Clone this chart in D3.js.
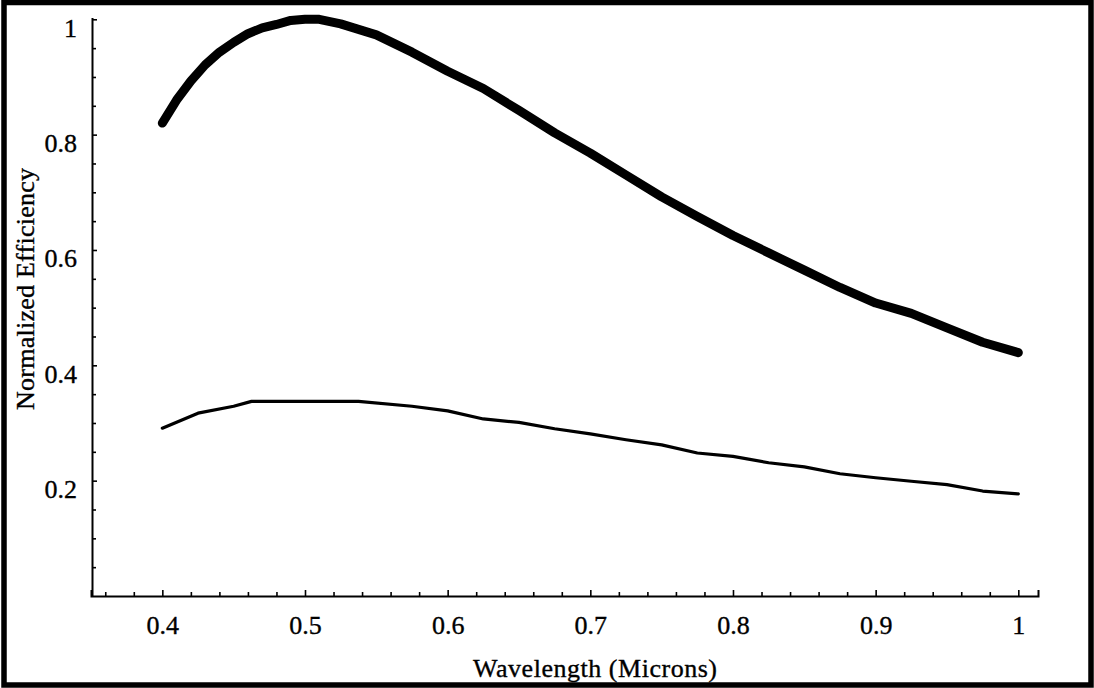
<!DOCTYPE html>
<html>
<head>
  <meta charset="UTF-8">
  <title>Normalized Efficiency vs Wavelength</title>
  <script src="https://d3js.org/d3.v7.min.js"></script>
  <style>
    body { margin: 0; background: #fff; }
    svg { display: block; }
    text { font-family: "Liberation Serif", "Times New Roman", serif; fill: #000; stroke: #000; stroke-width: 0.35px; }
    .axis path, .axis line { stroke: #000; }
  </style>
</head>
<body>
  <svg width="1094" height="688"></svg>
  <script>
    // upper (thick) curve
    const thickX = [0.40, 0.41, 0.42, 0.43, 0.44, 0.45, 0.46, 0.47, 0.48, 0.49, 0.50, 0.51,
                    0.525, 0.55, 0.575, 0.60, 0.625, 0.65, 0.675, 0.70, 0.725, 0.75, 0.775,
                    0.80, 0.825, 0.85, 0.875, 0.90, 0.925, 0.95, 0.975, 1.00];
    const thickY = [0.820, 0.860, 0.893, 0.921, 0.943, 0.960, 0.975, 0.985, 0.991, 0.998, 1.000, 1.000,
                    0.992, 0.973, 0.943, 0.910, 0.880, 0.842, 0.803, 0.768, 0.730, 0.692, 0.658,
                    0.625, 0.595, 0.565, 0.535, 0.508, 0.490, 0.465, 0.440, 0.422];
    // lower (thin) curve
    const thinX = [0.40, 0.425, 0.45, 0.4625, 0.5375, 0.575, 0.60, 0.625, 0.65, 0.675, 0.70, 0.725,
                   0.75, 0.775, 0.80, 0.825, 0.85, 0.875, 0.90, 0.925, 0.95, 0.975, 1.00];
    const thinY = [0.291, 0.317, 0.329, 0.3375, 0.3375, 0.329, 0.321, 0.307, 0.301, 0.290, 0.281, 0.271,
                   0.262, 0.248, 0.242, 0.231, 0.224, 0.212, 0.205, 0.199, 0.193, 0.182, 0.177];

    const xMajor = [0.4, 0.5, 0.6, 0.7, 0.8, 0.9, 1.0];
    const xLabels = ['0.4', '0.5', '0.6', '0.7', '0.8', '0.9', '1'];
    const yMajor = [0.2, 0.4, 0.6, 0.8, 1.0];
    const yLabels = ['0.2', '0.4', '0.6', '0.8', '1'];
    const xMinor = d3.range(18, 51).map(i => i * 0.02).filter(v => !xMajor.some(m => Math.abs(m - v) < 1e-6));
    const yMinor = d3.range(1, 21).map(i => i * 0.05).filter(v => !yMajor.some(m => Math.abs(m - v) < 1e-6));

    const svg = d3.select('svg');
    const serif = '"Liberation Serif", "Times New Roman", serif';

    const x = d3.scaleLinear().domain([0.35, 1.0138]).range([91, 1038]);
    const y = d3.scaleLinear().domain([0, 1]).range([596, 19.3]);

    // frame
    svg.append('rect')
      .attr('x', 4).attr('y', 2.5).attr('width', 1087).attr('height', 682.5)
      .attr('fill', 'none').attr('stroke', '#000').attr('stroke-width', 5.5);

    // x axis
    const gx = svg.append('g').attr('class', 'axis').attr('transform', `translate(0,${y(0)})`);
    gx.append('g')
      .call(d3.axisBottom(x).tickValues(xMinor).tickSize(-4).tickFormat(''))
      .call(g => g.select('.domain').remove())
      .selectAll('line').attr('stroke-width', 1.6);
    gx.append('g')
      .call(d3.axisBottom(x).tickValues(xMajor).tickSizeOuter(0).tickSize(-6)
        .tickFormat((d, i) => xLabels[i]))
      .call(g => g.select('.domain').attr('stroke-width', 2))
      .call(g => g.selectAll('line').attr('stroke-width', 1.6))
      .selectAll('text')
      .attr('y', 38).attr('dy', null)
      .attr('font-size', 26)
      .attr('font-family', serif);

    // y axis
    const gy = svg.append('g').attr('class', 'axis').attr('transform', `translate(${x(0.35) + 1},0)`);
    gy.append('g')
      .call(d3.axisLeft(y).tickValues(yMinor).tickSize(-4).tickFormat(''))
      .call(g => g.select('.domain').remove())
      .selectAll('line').attr('stroke-width', 1.6);
    gy.append('g')
      .call(d3.axisLeft(y.copy().domain([0, 1.003]).range([596, 17.5])).tickValues([]).tickSizeOuter(0))
      .select('.domain').attr('stroke-width', 2);
    gy.append('g')
      .call(d3.axisLeft(y).tickValues(yMajor).tickSize(-5).tickFormat((d, i) => yLabels[i]))
      .call(g => g.select('.domain').remove())
      .call(g => g.selectAll('line').attr('stroke-width', 1.6))
      .selectAll('text')
      .attr('x', -15).attr('dy', 17)
      .attr('font-size', 26)
      .attr('font-family', serif);

    // titles
    svg.append('text')
      .attr('x', 595).attr('y', 677)
      .attr('text-anchor', 'middle')
      .attr('font-size', 26)
      .attr('textLength', 244).attr('lengthAdjust', 'spacing')
      .text('Wavelength (Microns)');
    svg.append('text')
      .attr('transform', 'translate(34,289) rotate(-90)')
      .attr('text-anchor', 'middle')
      .attr('font-size', 26)
      .attr('textLength', 242).attr('lengthAdjust', 'spacing')
      .text('Normalized Efficiency');

    // curves
    const line = d3.line().x(d => x(d[0])).y(d => y(d[1]));
    svg.append('path')
      .datum(thickX.map((v, i) => [v, thickY[i]]))
      .attr('d', line)
      .attr('fill', 'none').attr('stroke', '#000')
      .attr('stroke-width', 9).attr('stroke-linecap', 'round').attr('stroke-linejoin', 'round');
    svg.append('path')
      .datum(thinX.map((v, i) => [v, thinY[i]]))
      .attr('d', line)
      .attr('fill', 'none').attr('stroke', '#000')
      .attr('stroke-width', 3.2).attr('stroke-linecap', 'round').attr('stroke-linejoin', 'round');
  </script>
</body>
</html>
